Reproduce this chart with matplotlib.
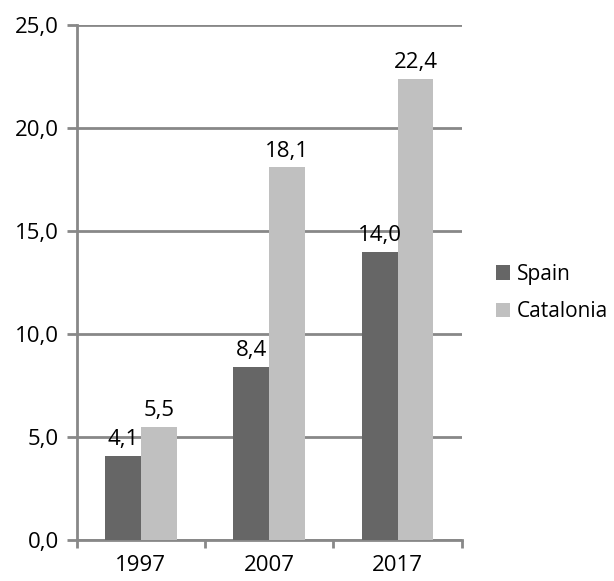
import numpy as np
import matplotlib.pyplot as plt

years = ['1997', '2007', '2017']
spain = [4.1, 8.4, 14.0]
catalonia = [5.5, 18.1, 22.4]
yticks = [0, 5, 10, 15, 20, 25]

plt.rcParams['font.family'] = ['Open Sans', 'DejaVu Sans']

fig = plt.figure(figsize=(6.14, 5.81), dpi=100)
ax = fig.add_axes([0.125, 0.0706, 0.627, 0.886])

x = np.arange(len(years))
w = 0.28
grid_c = '#888888'
fs = 16

b1 = ax.bar(x - w / 2, spain, w, color='#666666', label='Spain', zorder=3)
b2 = ax.bar(x + w / 2, catalonia, w, color='#c0c0c0', label='Catalonia', zorder=3)

for bars, vals in ((b1, spain), (b2, catalonia)):
    for b, v in zip(bars, vals):
        ax.annotate(f'{v:.1f}'.replace('.', ','),
                    (b.get_x() + b.get_width() / 2, b.get_height()),
                    xytext=(0, 4), textcoords='offset points',
                    ha='center', va='bottom', fontsize=fs)

ax.set_xlim(-0.5, 2.5)
ax.set_ylim(0, 25)
ax.set_yticks(yticks)
ax.set_yticklabels([f'{t:.1f}'.replace('.', ',') for t in yticks], fontsize=fs)
ax.yaxis.grid(True, color=grid_c, linewidth=2, zorder=0)

ax.set_xticks(x)
ax.set_xticklabels(years, fontsize=fs)
ax.tick_params(axis='x', which='major', length=0, pad=11)
ax.set_xticks([-0.5, 0.5, 1.5, 2.5], minor=True)
ax.tick_params(axis='x', which='minor', length=6, width=2, color=grid_c)
ax.tick_params(axis='y', length=7, width=2, color=grid_c, pad=6)

for s in ['top', 'right']:
    ax.spines[s].set_visible(False)
for s in ['left', 'bottom']:
    ax.spines[s].set_color(grid_c)
    ax.spines[s].set_linewidth(2)

ax.legend(loc='center left', bbox_to_anchor=(1.04, 0.48), frameon=False,
          fontsize=15, handlelength=0.7, handleheight=0.7, handletextpad=0.3,
          labelspacing=0.8)

fig.savefig('out.png', dpi=100)
